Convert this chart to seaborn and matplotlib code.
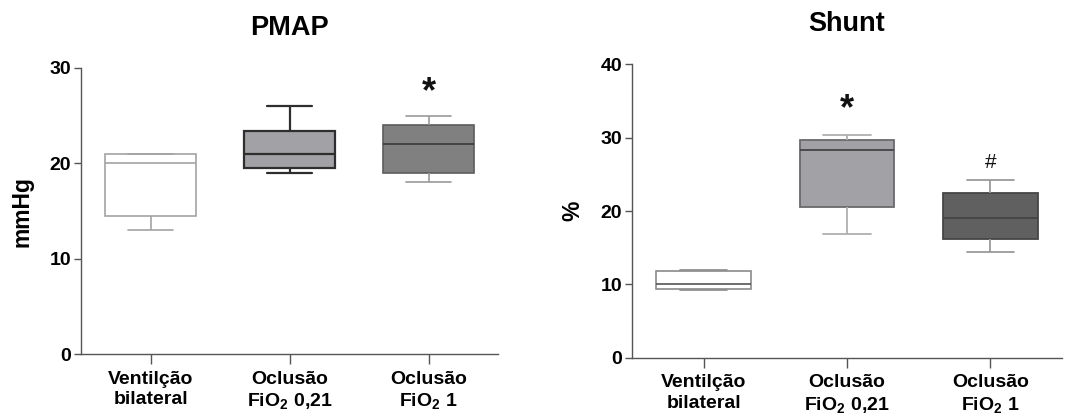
import matplotlib
matplotlib.use("Agg")
import matplotlib.pyplot as plt
import seaborn as sns
import pandas as pd

# Groups and axis labels
grupos = ["Ventilção bilateral", "Oclusão FiO2 0,21", "Oclusão FiO2 1"]
rotulos = ["Ventilção\nbilateral", "Oclusão\nFiO$_2$ 0,21", "Oclusão\nFiO$_2$ 1"]

# Five-number summaries per group: min, Q1, median, Q3, max
pmap_vent = [13.0, 14.5, 20.0, 21.0, 21.0]
pmap_oc021 = [19.0, 19.55, 21.0, 23.4, 26.0]
pmap_oc1 = [18.0, 19.0, 22.0, 24.0, 25.0]

shunt_vent = [9.2, 9.35, 10.1, 11.8, 11.9]
shunt_oc021 = [16.8, 20.6, 28.3, 29.7, 30.4]
shunt_oc1 = [14.45, 16.2, 19.05, 22.45, 24.2]

# Significance marks: (group index, y position, text)
pmap_marcas = [(2, 27.4, "*")]
shunt_marcas = [(1, 33.8, "*"), (2, 26.6, "#")]

sns.set_style("ticks")
plt.rcParams["font.family"] = ["Liberation Sans", "DejaVu Sans"]
plt.rcParams["mathtext.fontset"] = "custom"
plt.rcParams["mathtext.rm"] = "Liberation Sans:bold"
plt.rcParams["mathtext.bf"] = "Liberation Sans:bold"
plt.rcParams["mathtext.it"] = "Liberation Sans:bold"
plt.rcParams["text.color"] = "black"
plt.rcParams["axes.labelcolor"] = "black"
plt.rcParams["xtick.labelcolor"] = "black"
plt.rcParams["ytick.labelcolor"] = "black"


def long_form(series):
    rows = []
    for g, vals in zip(grupos, series):
        for v in vals:
            rows.append({"grupo": g, "valor": v})
    return pd.DataFrame(rows)


# Per-box styles: fill, edge, whisker colour, median colour, line width
pmap_estilos = [
    ("#ffffff", "#a3a3a3", "#a3a3a3", "#a3a3a3", 1.2),
    ("#a2a2a6", "#2e2e2e", "#2e2e2e", "#2e2e2e", 1.6),
    ("#808080", "#5c5c5c", "#9a9a9a", "#3a3a3a", 1.2),
]
shunt_estilos = [
    ("#ffffff", "#8a8a8a", "#8a8a8a", "#555555", 1.2),
    ("#a2a2a6", "#6a6a6a", "#b0b0b0", "#444444", 1.3),
    ("#606060", "#464646", "#9a9a9a", "#444444", 1.3),
]

fig = plt.figure(figsize=(10.69, 4.17), dpi=100)
ax1 = fig.add_axes([0.0758, 0.151, 0.3901, 0.686])
ax2 = fig.add_axes([0.5912, 0.1422, 0.4023, 0.7036])


def painel(ax, series, estilos, titulo, ylabel, ymax, marcas, largura):
    df = long_form(series)
    for g, (fill, edge, wcol, mcol, lw) in zip(grupos, estilos):
        sub = df[df["grupo"] == g]
        sns.boxplot(
            data=sub, x="grupo", y="valor", order=grupos, ax=ax,
            color=fill, linecolor=edge, linewidth=lw, width=largura,
            whis=(0, 100), saturation=1, fliersize=0,
            boxprops={"facecolor": fill, "edgecolor": edge},
            whiskerprops={"color": wcol},
            capprops={"color": wcol},
            medianprops={"color": mcol},
        )
    ax.set_xlim(-0.5, 2.5)
    ax.set_ylim(0, ymax)
    ax.set_yticks(range(0, ymax + 1, 10))
    ax.set_xticks(range(len(grupos)))
    ax.set_xticklabels(rotulos, fontsize=14, fontweight="bold", linespacing=1.25)
    for lbl in ax.get_yticklabels():
        lbl.set_fontsize(14)
        lbl.set_fontweight("bold")
    ax.set_xlabel("")
    ax.set_ylabel(ylabel, fontsize=16.5, fontweight="bold", labelpad=12)
    ax.set_title(titulo, fontsize=19.5, fontweight="bold", pad=24)
    ax.tick_params(axis="y", length=5, width=1, color="#555555", pad=2)
    ax.tick_params(axis="x", length=7, width=1, color="#555555", pad=5)
    for s in ("left", "bottom"):
        ax.spines[s].set_color("#555555")
        ax.spines[s].set_linewidth(1.0)
    sns.despine(ax=ax)
    for i, y, txt in marcas:
        if txt == "*":
            ax.text(i, y, txt, ha="center", va="center", fontsize=26,
                    fontweight="bold", color="#111111")
        else:
            ax.text(i, y, txt, ha="center", va="center", fontsize=15,
                    color="#111111")


painel(ax1, [pmap_vent, pmap_oc021, pmap_oc1], pmap_estilos,
       "PMAP", "mmHg", 30, pmap_marcas, 0.65)
painel(ax2, [shunt_vent, shunt_oc021, shunt_oc1], shunt_estilos,
       "Shunt", "%", 40, shunt_marcas, 0.66)

fig.savefig("out.png", dpi=100, facecolor="white")
